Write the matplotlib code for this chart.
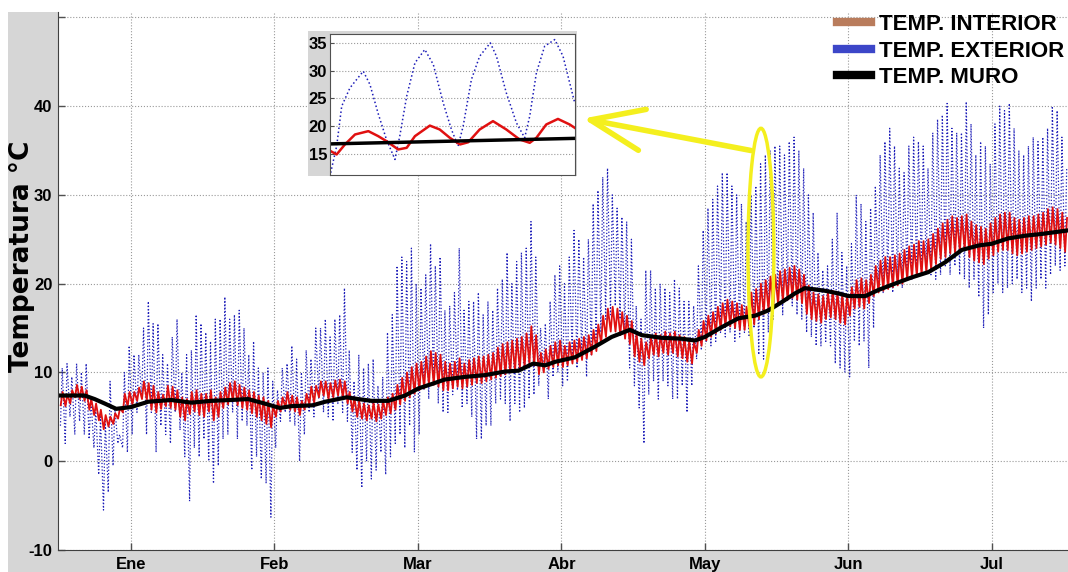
import numpy as np
import matplotlib
matplotlib.use("Agg")
import matplotlib.pyplot as plt
from matplotlib.patches import Ellipse, Rectangle
from matplotlib.lines import Line2D

plt.rcParams['font.family'] = ['Liberation Sans', 'DejaVu Sans']
plt.rcParams['font.weight'] = 'bold'
plt.rcParams['axes.unicode_minus'] = False

## Data (days counted from 1 Jan, one max/min pair per day)
first_day, last_day = -15, 195

ext_max = [10.5, 11, 9.5, 11, 10, 11, 7, 6, 5, 4.5,
           9, 6, 3, 10, 13, 12, 12, 15, 18, 15.5,
           15.5, 12, 11, 14, 16, 10, 12, 12.5, 16.5, 15.5,
           14.5, 13.5, 16, 16, 18.5, 16, 16.5, 17, 15, 12,
           13.5, 10.5, 10, 10.5, 9, 8, 10.5, 11, 13, 11.5,
           10, 12.5, 11.5, 15, 15, 16, 14, 16, 16.5, 19.5,
           12.5, 9, 12, 10.5, 11, 11.5, 8.5, 9.5, 14.5, 16.5,
           22, 23, 22.5, 24, 20, 19.5, 21, 24.5, 22, 23,
           17, 17.5, 19, 24, 17, 18, 18, 19, 16.5, 18,
           17, 19.5, 20.5, 23.5, 20, 22.5, 23.5, 24, 27, 23,
           15, 15.5, 18, 21, 22, 20, 23, 26, 25, 23,
           25, 29, 30.5, 32, 33, 30, 28.5, 27.5, 27, 25,
           17.5, 16, 21.5, 21.5, 19.5, 20, 19.5, 19, 20.5, 19.5,
           18, 18, 17.5, 22, 26, 28.5, 29.5, 31, 32.5, 32.5,
           31, 30, 29, 27, 30, 31, 33.5, 34.5, 35, 35.5,
           35.5, 34.5, 36, 36.5, 35, 33, 30, 28, 23.5, 21.5,
           22, 25, 28, 23.5, 22, 24.5, 30, 29, 27, 28.5,
           31, 34.5, 36, 37.5, 35.5, 33, 32.5, 35.5, 36.5, 36,
           35.5, 33, 37, 38.5, 39, 40.3, 37.5, 37, 37, 40.5,
           38, 34.5, 36, 35.5, 33.5, 38, 40, 39.5, 40.3, 37.5,
           35, 34.5, 35.5, 36.5, 36, 36.5, 37.5, 40, 39.5, 36.5, 33]

ext_min = [4, 2, 5, 3, 4.5, 3, 2.5, 1.5, -1.5, -5.5,
           -3.5, -0.5, 2, 1.5, 1, 3, 5.5, 7, 3, 5.5,
           1, 4, 3, 2, 5.5, 3.5, 0.5, -4.5, 1.5, 0.5,
           2.5, 0, -2.5, -0.5, 2.5, 3, 5.5, 2.5, 4.5, 4,
           -1, 0.5, -2, -2.5, -6.3, 1.5, 4.5, 5.5, 4.5, 4,
           0, 3, 5.5, 5, 7, 5.5, 5, 4.5, 6.5, 5.5,
           4.5, 1, -1, -3, 0, -2, -1, 1, -1.5, 0.5,
           2, 3, 1.5, 4, 1, 3, 8, 7, 8.5, 6.5,
           5.5, 5.5, 7.5, 8, 6, 6.5, 5, 2.5, 2.5, 4,
           4, 6.5, 7, 6.5, 4.5, 6.5, 5.5, 6, 7, 7.5,
           8.5, 10, 7, 9.5, 10, 8.5, 9, 12, 10.5, 11.5,
           9.5, 12, 13, 14.5, 16, 16.5, 17.5, 16, 14.5, 10.5,
           8.5, 6, 2, 7.5, 9, 7, 9, 8.5, 7, 7,
           8.5, 5.5, 8.5, 11.5, 12.5, 13.5, 13, 13.5, 14.5, 14,
           14.5, 13.5, 14, 14.5, 14, 15, 12, 11.5, 14.5, 16,
           17.5, 16.5, 18, 17.5, 16.5, 16, 14.5, 14, 13, 13,
           13.5, 13, 11, 10.5, 10, 9.5, 13.5, 13, 13.5, 10.5,
           15, 19, 19, 19.5, 19, 20, 19.5, 21, 20.5, 21,
           21.5, 22, 21, 20.5, 21, 22, 21, 22, 21, 20.5,
           19.5, 20.5, 18.5, 15, 16.5, 19, 20, 19, 19.5, 20,
           20.5, 19, 19.5, 18, 19.5, 20.5, 19.5, 21, 22, 21.5, 22]

int_max = [7.8, 7.5, 8.0, 8.6, 8.4, 8.0, 7.0, 6.5, 5.8, 5.2,
           5.0, 5.4, 6.0, 7.6, 7.8, 7.8, 8.3, 9.0, 8.8, 8.5,
           7.8, 7.5, 8.5, 8.4, 8.0, 7.2, 7.0, 7.8, 8.0, 7.6,
           7.6, 8.0, 7.2, 7.8, 8.3, 8.8, 9.0, 8.6, 8.3, 8.0,
           7.8, 7.4, 7.2, 6.8, 6.3, 6.8, 7.2, 7.8, 7.4, 7.2,
           6.8, 7.6, 8.4, 8.5, 9.0, 9.0, 8.8, 9.1, 9.2, 9.0,
           7.8, 7.2, 6.8, 6.5, 6.3, 6.6, 6.4, 6.8, 7.2, 7.6,
           8.6, 9.4, 10.0, 10.6, 11.0, 11.2, 11.8, 12.4, 12.2, 12.0,
           11.2, 11.0, 11.2, 11.6, 11.0, 11.4, 11.6, 11.8, 11.8, 12.0,
           12.2, 12.8, 13.2, 13.4, 13.6, 13.8, 14.0, 14.4, 15.2, 14.2,
           12.2, 12.6, 13.0, 13.4, 13.6, 13.0, 13.4, 13.6, 13.8, 14.0,
           14.2, 14.8, 15.4, 16.4, 17.2, 17.4, 17.2, 16.8, 16.4, 15.8,
           14.4, 13.8, 13.4, 14.0, 14.4, 14.2, 14.6, 14.4, 14.6, 14.2,
           14.0, 13.6, 13.4, 14.8, 15.8, 16.4, 16.8, 17.4, 17.8, 18.2,
           18.0, 17.8, 17.6, 17.4, 19.0, 19.4, 20.0, 20.4, 20.8, 21.0,
           21.4, 21.6, 21.8, 22.0, 21.6, 21.0, 19.8, 19.0, 18.8, 18.6,
           19.0, 19.2, 19.0, 18.8, 18.6, 19.6, 20.4, 20.6, 20.4, 21.0,
           22.0, 22.6, 23.0, 23.0, 23.2, 23.4, 23.8, 24.2, 24.4, 24.8,
           24.8, 25.0, 25.6, 26.2, 26.8, 27.2, 27.6, 27.4, 27.6, 27.8,
           27.0, 26.6, 26.4, 26.2, 26.8, 27.4, 27.8, 28.0, 28.0, 27.4,
           27.2, 27.4, 27.6, 27.6, 27.8, 28.0, 28.4, 28.6, 28.4, 28.0, 27.4]

int_min = [6.3, 6.2, 6.5, 7.2, 7.0, 6.8, 5.8, 5.2, 4.6, 3.6,
           3.9, 4.2, 4.8, 5.5, 6.2, 6.4, 6.8, 7.0, 6.9, 5.8,
           5.5, 5.9, 6.2, 6.0, 5.8, 5.0, 4.6, 5.3, 5.6, 5.2,
           5.0, 5.6, 4.6, 5.0, 6.0, 6.4, 6.8, 6.3, 6.0, 5.8,
           5.4, 5.0, 4.6, 4.2, 3.8, 5.0, 5.6, 6.0, 5.8, 5.6,
           5.2, 5.8, 6.4, 6.6, 7.2, 7.4, 7.0, 7.2, 7.4, 7.2,
           6.5, 5.6, 5.0, 4.8, 4.6, 4.8, 4.5, 4.8, 5.2, 5.4,
           5.8, 6.4, 6.8, 7.2, 7.6, 8.0, 8.2, 8.6, 8.6, 8.4,
           8.0, 8.0, 8.2, 8.4, 8.2, 8.4, 8.6, 8.8, 8.8, 9.0,
           9.2, 9.4, 9.6, 9.8, 10.0, 10.2, 10.4, 10.6, 11.0, 10.8,
           9.8, 10.0, 10.4, 10.6, 10.8, 10.6, 10.8, 11.0, 11.2, 11.4,
           11.6, 12.0, 12.4, 13.2, 14.0, 14.6, 14.6, 14.2, 13.8, 13.2,
           11.8, 11.2, 10.8, 11.6, 12.0, 11.8, 12.2, 12.0, 12.2, 11.8,
           11.6, 11.2, 11.0, 12.2, 13.0, 13.6, 14.0, 14.4, 14.8, 15.2,
           15.2, 15.0, 14.8, 14.8, 15.0, 15.4, 16.0, 16.6, 17.0, 17.2,
           17.6, 18.0, 18.2, 18.4, 18.2, 17.8, 16.6, 16.0, 15.8, 15.6,
           16.0, 16.2, 16.0, 15.6, 15.4, 16.4, 17.2, 17.4, 17.2, 17.8,
           18.6, 19.0, 19.2, 19.4, 19.6, 19.8, 20.0, 20.4, 20.6, 20.8,
           21.0, 21.2, 21.6, 22.2, 22.8, 23.0, 23.4, 23.4, 23.6, 23.8,
           23.0, 22.6, 22.4, 22.2, 22.8, 23.2, 23.6, 23.8, 23.8, 23.4,
           23.2, 23.4, 23.6, 23.8, 24.0, 24.2, 24.4, 24.6, 24.4, 24.0, 23.6]

muro_day = [-15.3, -9.7, -7.6, -5.5, -3.1, 0, 3.6, 8.4, 12.6, 16.8, 21, 24.5,
            27.9, 31.1, 33.5, 38, 40.6, 45.1, 47.5, 50.3, 53.8, 57.3, 60.1,
            62.9, 65.6, 69.8, 74, 78.2, 81, 84.1, 86.6, 88.7, 92.8, 97, 100.5,
            104.3, 106.8, 111, 115.1, 117.9, 120, 123.5, 127, 130.5, 133.3,
            136, 138.8, 140.9, 145.1, 147.9, 150, 153.5, 156.3, 159.7, 163.2,
            166.7, 170.2, 173.7, 177.2, 180, 183.4, 186.9, 190.4, 195.9]
muro_temp = [7.4, 7.4, 7.0, 6.5, 5.9, 6.1, 6.7, 6.9, 6.6, 6.8, 6.9, 7.0,
             6.5, 6.0, 6.2, 6.3, 6.7, 7.2, 7.0, 6.8, 6.8, 7.4, 8.2,
             8.7, 9.2, 9.5, 9.7, 10.1, 10.2, 11.0, 10.8, 11.2, 11.7, 12.9, 14.0,
             14.8, 14.2, 13.9, 13.8, 13.6, 14.0, 15.1, 16.1, 16.4, 17.0,
             17.9, 18.9, 19.5, 19.2, 18.9, 18.6, 18.6, 19.3, 20.0, 20.7,
             21.3, 22.4, 23.8, 24.3, 24.5, 25.1, 25.4, 25.6, 26.0]

month_day = [0, 30, 60, 90, 120, 150, 180]
month_labels = ['Ene', 'Feb', 'Mar', 'Abr', 'May', 'Jun', 'Jul']

# zoomed detail (hours)
zoom_ext_h = [0.25, 2.5, 4.4, 7.5, 10, 12.5, 15, 18, 21.2, 24.4, 26.2, 28.8,
              31.9, 35.6, 38.8, 42.5, 45.6, 48.1, 50, 53.1, 56.2, 60.2, 62.5,
              66.2, 70, 73.1, 75, 77.5, 80.6, 84.4, 87.5, 90, 91.9]
zoom_ext_t = [11.6, 16.4, 23.6, 26.9, 28.4, 29.9, 27.5, 22.4, 17.6, 14.0, 18.2,
              25.4, 31.4, 33.8, 31.1, 24.2, 19.4, 16.4, 20.0, 28.4, 32.6, 35.0,
              32.6, 26.0, 20.6, 17.9, 21.8, 29.6, 34.4, 35.6, 32.6, 27.8, 24.2]
zoom_int_h = [0.25, 2.5, 5.6, 9.4, 14.4, 18.1, 21.2, 25.6, 28.8, 31.9, 37.5,
              41.2, 45, 48.8, 51.9, 56.2, 61.2, 66.2, 71.2, 75, 77.5, 81.2,
              85.6, 90, 91.9]
zoom_int_t = [15.5, 14.9, 16.7, 18.5, 19.1, 18.2, 17.3, 15.8, 16.1, 18.2, 20.1,
              19.4, 17.9, 16.7, 17.1, 19.4, 20.9, 19.4, 17.6, 17.0, 17.9, 20.3,
              21.3, 20.3, 19.7]
zoom_muro_h = [0, 92]
zoom_muro_t = [16.8, 17.8]

W, H = 1068, 572
yellow = '#f4ef1e'
gray_bg = '#d6d6d6'
blue = '#1c1cb8'
red = '#e01010'

days = np.arange(first_day, last_day + 1)
x_ext = np.column_stack([days + 0.25, days + 0.625]).ravel()
y_ext = np.column_stack([ext_min, ext_max]).ravel()
x_int = np.column_stack([days + 0.3, days + 0.7]).ravel()
y_int = np.column_stack([int_min, int_max]).ravel()

fig = plt.figure(figsize=(W / 100, H / 100), dpi=100)
fig.add_artist(Rectangle((8 / W, 0), 1, 1 - 12 / H, transform=fig.transFigure,
                         facecolor=gray_bg, edgecolor='none', zorder=0))

ax = fig.add_axes([58 / W, 1 - 550 / H, 1 - 58 / W, 538 / H])
ax.set_zorder(1)
ax.plot(x_ext, y_ext, ':', color=blue, lw=0.9)
ax.plot(x_int, y_int, '-', color=red, lw=1.3)
ax.plot(muro_day, muro_temp, '-', color='black', lw=3)

ax.set_xlim(-15.26, 195.9)
ax.set_ylim(-10, 50.6)
ax.set_xticks(month_day)
ax.set_xticklabels(month_labels)
ax.set_yticks([-10, 0, 10, 20, 30, 40, 50])
ax.set_yticklabels(['-10', '0', '10', '20', '30', '40', ''])
ax.tick_params(direction='in', length=5, width=1, color='#505050', labelsize=12)
ax.tick_params(axis='x', pad=5)
ax.tick_params(axis='y', pad=4)
ax.grid(True, linestyle=':', color='#9a9a9a', lw=0.8)
for s in ['top', 'right']:
    ax.spines[s].set_visible(False)
for s in ['left', 'bottom']:
    ax.spines[s].set_color('#404040')
ax.set_ylabel('Temperatura °C', fontsize=19, fontweight='bold',
              family=['DejaVu Sans'])
ax.yaxis.set_label_coords(-0.023, 0.545)

handles = [Line2D([], [], color='#b97c5c', lw=6),
           Line2D([], [], color='#3c46c8', lw=6),
           Line2D([], [], color='black', lw=6)]
ax.legend(handles, ['TEMP. INTERIOR', 'TEMP. EXTERIOR', 'TEMP. MURO'],
          loc='upper left', bbox_to_anchor=(837 / W, 1 - 14 / H),
          bbox_transform=fig.transFigure, frameon=False,
          prop={'weight': 'bold', 'size': 16}, handlelength=1.55,
          handletextpad=0.35, labelspacing=0.25, borderaxespad=0, borderpad=0)

# highlight of the zoomed days
ax.add_patch(Ellipse((131.7, 23.5), 5.4, 28, fill=False, ec=yellow, lw=2.5, zorder=5))
ax.annotate('', xy=(94.5, 38.6), xytext=(129.6, 35.0),
            arrowprops=dict(arrowstyle='->,head_length=1.9,head_width=0.75',
                            color=yellow, lw=4, mutation_scale=20,
                            shrinkA=0, shrinkB=0), zorder=6)

# inset
fig.add_artist(Rectangle((308 / W, 1 - 176 / H), 269 / W, 145 / H,
                         transform=fig.transFigure, facecolor=gray_bg,
                         edgecolor='none', zorder=2))
axin = fig.add_axes([330 / W, 1 - 175 / H, 245 / W, 141 / H])
axin.set_zorder(3)
axin.plot(zoom_ext_h, zoom_ext_t, ':', color=blue, lw=1.1)
axin.plot(zoom_int_h, zoom_int_t, '-', color=red, lw=1.8)
axin.plot(zoom_muro_h, zoom_muro_t, '-', color='black', lw=2.5)
axin.set_xlim(0, 92)
axin.set_ylim(11.2, 36.6)
axin.set_xticks([])
axin.set_yticks([15, 20, 25, 30, 35])
axin.tick_params(direction='in', length=3, color='#505050', labelsize=12, pad=2)
axin.grid(True, axis='y', linestyle=':', color='#9a9a9a', lw=0.8)
for s in axin.spines.values():
    s.set_color('#505050')

fig.savefig('out.png', dpi=100)
